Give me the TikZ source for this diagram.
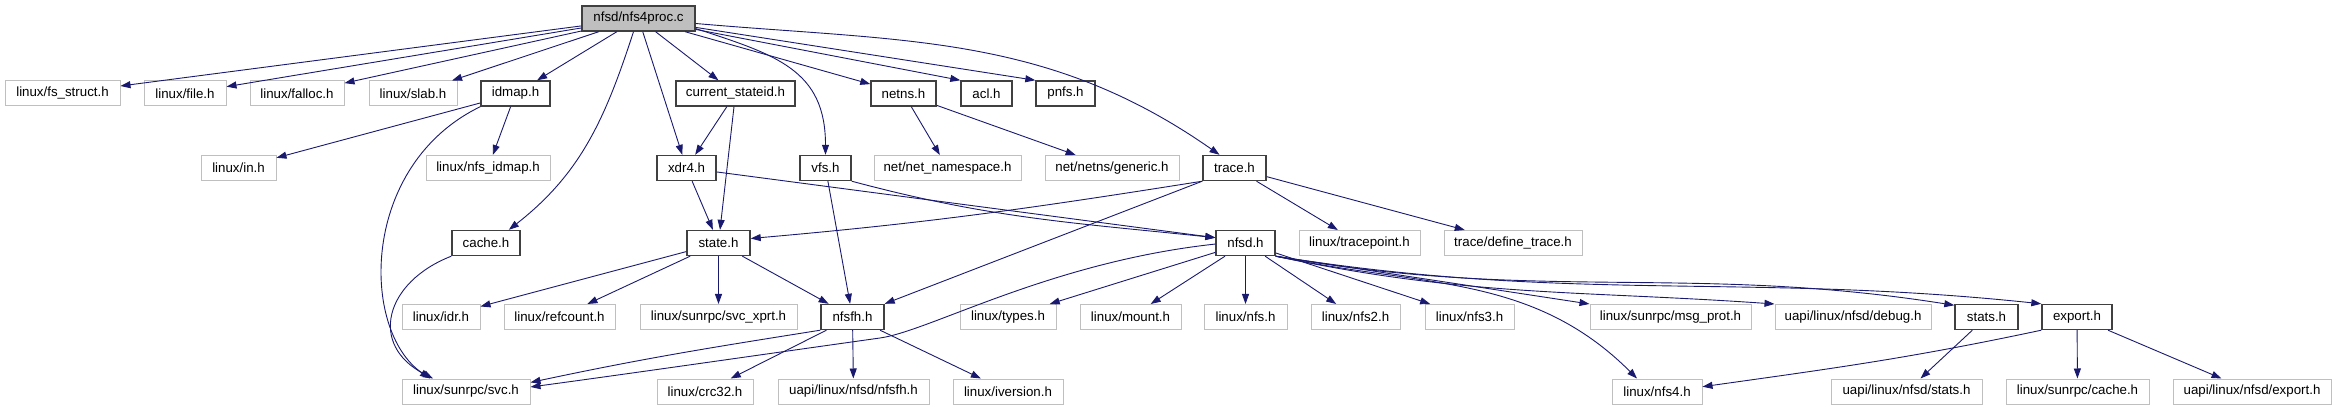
\documentclass[tikz,border=0pt]{standalone}
\usepackage{fontspec}
\setmainfont{Liberation Sans}
\usetikzlibrary{arrows.meta}

\definecolor{edgeblue}{RGB}{25,25,112}
\definecolor{extgray}{RGB}{191,191,191}
\definecolor{docgray}{RGB}{64,64,64}

\tikzset{
  hdr/.style={draw=extgray, line width=1pt, minimum height=25pt, inner sep=0pt,
    font=\fontsize{13.3}{15}\selectfont},
  doc/.style={hdr, draw=docgray, line width=1.4pt},
  rootfile/.style={doc, fill=extgray},
  dep/.style={draw=edgeblue, line width=0.9pt, -{Triangle[length=10pt,width=7pt]}}
}

\begin{document}
\begin{tikzpicture}[x=1pt,y=1pt]
    \useasboundingbox (0,0) rectangle (2336,-411);

    % Source file
    \node[rootfile, minimum width=113pt] (proc) at (638.5,-18.5) {nfsd/nfs4proc.c};

    % First level
    \node[hdr, minimum width=115pt] (fsstruct) at (62.5,-93.5) {linux/fs\_struct.h};
    \node[hdr, minimum width=82pt] (file) at (185,-93.5) {linux/file.h};
    \node[hdr, minimum width=94pt] (falloc) at (297,-93.5) {linux/falloc.h};
    \node[hdr, minimum width=88pt] (slab) at (413,-93.5) {linux/slab.h};
    \node[doc, minimum width=69pt] (idmap) at (515.5,-93.5) {idmap.h};
    \node[doc, minimum width=119pt] (curstate) at (735.5,-93.5) {current\_stateid.h};
    \node[doc, minimum width=65pt] (netns) at (903.5,-93.5) {netns.h};
    \node[doc, minimum width=51pt] (acl) at (986.5,-93.5) {acl.h};
    \node[doc, minimum width=59pt] (pnfs) at (1065.5,-93.5) {pnfs.h};

    % Second level
    \node[hdr, minimum width=75pt] (linin) at (238.5,-168) {linux/in.h};
    \node[hdr, minimum width=124pt] (nfsidmap) at (488,-168) {linux/nfs\_idmap.h};
    \node[doc, minimum width=59pt] (xdr) at (686.5,-168) {xdr4.h};
    \node[doc, minimum width=51pt] (vfs) at (825.5,-168) {vfs.h};
    \node[hdr, minimum width=147pt] (netnsp) at (947.5,-168) {net/net\_namespace.h};
    \node[hdr, minimum width=134pt] (generic) at (1112,-168) {net/netns/generic.h};
    \node[doc, minimum width=63pt] (trace) at (1234.5,-168) {trace.h};

    % Third level
    \node[doc, minimum width=68pt] (cache) at (486,-243) {cache.h};
    \node[doc, minimum width=63pt] (state) at (718.5,-243) {state.h};
    \node[doc, minimum width=59pt] (nfsd) at (1245.5,-243) {nfsd.h};
    \node[hdr, minimum width=121pt] (tracept) at (1359.5,-243) {linux/tracepoint.h};
    \node[hdr, minimum width=138pt] (deftrace) at (1513,-243) {trace/define\_trace.h};

    % Fourth level
    \node[hdr, minimum width=78pt] (idr) at (441,-317) {linux/idr.h};
    \node[hdr, minimum width=111pt] (refcount) at (559.5,-317) {linux/refcount.h};
    \node[hdr, minimum width=157pt] (svcxprt) at (718.5,-317) {linux/sunrpc/svc\_xprt.h};
    \node[doc, minimum width=63pt] (nfsfh) at (852.5,-317) {nfsfh.h};
    \node[hdr, minimum width=96pt] (types) at (1008,-317) {linux/types.h};
    \node[hdr, minimum width=101pt] (mount) at (1130.5,-317) {linux/mount.h};
    \node[hdr, minimum width=83pt] (nfs) at (1245.5,-317) {linux/nfs.h};
    \node[hdr, minimum width=89pt] (nfstwo) at (1355.5,-317) {linux/nfs2.h};
    \node[hdr, minimum width=89pt] (nfsthree) at (1469.5,-317) {linux/nfs3.h};
    \node[hdr, minimum width=161pt] (msgprot) at (1670.5,-317) {linux/sunrpc/msg\_prot.h};
    \node[hdr, minimum width=156pt] (debug) at (1853,-317) {uapi/linux/nfsd/debug.h};
    \node[doc, minimum width=63pt] (stats) at (1986.5,-317) {stats.h};
    \node[doc, minimum width=70pt] (export) at (2077,-317) {export.h};

    % Fifth level
    \node[hdr, minimum width=128pt] (svc) at (466,-391.5) {linux/sunrpc/svc.h};
    \node[hdr, minimum width=96pt] (crc) at (705,-391.5) {linux/crc32.h};
    \node[hdr, minimum width=151pt] (uapifh) at (853.5,-391.5) {uapi/linux/nfsd/nfsfh.h};
    \node[hdr, minimum width=110pt] (iversion) at (1008,-391.5) {linux/iversion.h};
    \node[hdr, minimum width=90pt] (nfsfour) at (1657,-391.5) {linux/nfs4.h};
    \node[hdr, minimum width=151pt] (uapistats) at (1906.5,-391.5) {uapi/linux/nfsd/stats.h};
    \node[hdr, minimum width=143pt] (sunrpccache) at (2077.5,-391.5) {linux/sunrpc/cache.h};
    \node[hdr, minimum width=158pt] (uapiexport) at (2252,-391.5) {uapi/linux/nfsd/export.h};

    % Includes of nfs4proc.c
    \draw[dep] (proc) -- (fsstruct);
    \draw[dep] (proc) -- (file);
    \draw[dep] (proc) -- (falloc);
    \draw[dep] (proc) -- (slab);
    \draw[dep] (proc) -- (idmap);
    \draw[dep] ([xshift=-5pt]proc.south) to[out=-108,in=38] (cache.30);
    \draw[dep] (proc) -- (xdr);
    \draw[dep] (proc) -- (curstate);
    \draw[dep] (proc.-10) to[out=-18,in=90,looseness=1.2] (vfs.north);
    \draw[dep] (proc) -- (netns);
    \draw[dep] (proc) -- (acl.north west);
    \draw[dep] (proc) -- (pnfs.north west);
    \draw[dep] (proc.-5) to[out=-5,in=145] ([xshift=-15pt]trace.north);

    % idmap.h and cache.h
    \draw[dep] (idmap) -- (linin);
    \draw[dep] (idmap) -- (nfsidmap);
    \draw[dep] (idmap.south west) .. controls (360,-165) and (360,-330) .. ([xshift=-36pt]svc.north);
    \draw[dep] (cache.south west) .. controls (385,-282) and (368,-345) .. ([xshift=-33pt]svc.north);

    % current_stateid.h, xdr4.h, vfs.h
    \draw[dep] (curstate) -- (xdr);
    \draw[dep] (curstate) -- (state);
    \draw[dep] (xdr) -- (state);
    \draw[dep] (xdr) -- (nfsd.170);
    \draw[dep] (vfs.south east) to[out=-15,in=174] (nfsd.170);
    \draw[dep] (vfs) -- (nfsfh);

    % netns.h
    \draw[dep] (netns) -- (netnsp);
    \draw[dep] (netns) -- (generic);

    % trace.h
    \draw[dep] (trace.south west) to[out=-171,in=5] (state.8);
    \draw[dep] (trace.south west) -- (nfsfh.north east);
    \draw[dep] (trace) -- (tracept);
    \draw[dep] (trace) -- (deftrace);

    % state.h
    \draw[dep] (state) -- (idr);
    \draw[dep] (state) -- (refcount);
    \draw[dep] (state) -- (svcxprt);
    \draw[dep] (state) -- (nfsfh);

    % nfsfh.h
    \draw[dep] (nfsfh.south west) to[out=-171,in=12] (svc.8);
    \draw[dep] (nfsfh) -- (crc);
    \draw[dep] (nfsfh) -- (uapifh);
    \draw[dep] (nfsfh) -- (iversion);

    % nfsd.h
    \draw[dep] (nfsd.182) .. controls (1050,-262) and (930,-331) .. (880,-338)
                          .. controls (780,-352) and (620,-375) .. (svc.4);
    \draw[dep] (nfsd) -- (types);
    \draw[dep] (nfsd) -- (mount);
    \draw[dep] (nfsd) -- (nfs);
    \draw[dep] (nfsd) -- (nfstwo);
    \draw[dep] (nfsd) -- (nfsthree);
    \draw[dep] (nfsd.south east) -- (msgprot.north west);
    \draw[dep] (nfsd.south east) to[out=-12,in=176] (debug.north west);
    \draw[dep] (nfsd.south east) to[out=-10,in=171] (stats.160);
    \draw[dep] (nfsd.south east) to[out=-9,in=174] (export.north west);
    \draw[dep] (nfsd.south east) to[out=-12,in=135] ([xshift=-20pt]nfsfour.north);

    % stats.h and export.h
    \draw[dep] (stats) -- (uapistats);
    \draw[dep] (export.south west) to[out=-168,in=8] (nfsfour.6);
    \draw[dep] (export) -- (sunrpccache);
    \draw[dep] (export) -- (uapiexport);
\end{tikzpicture}
\end{document}
